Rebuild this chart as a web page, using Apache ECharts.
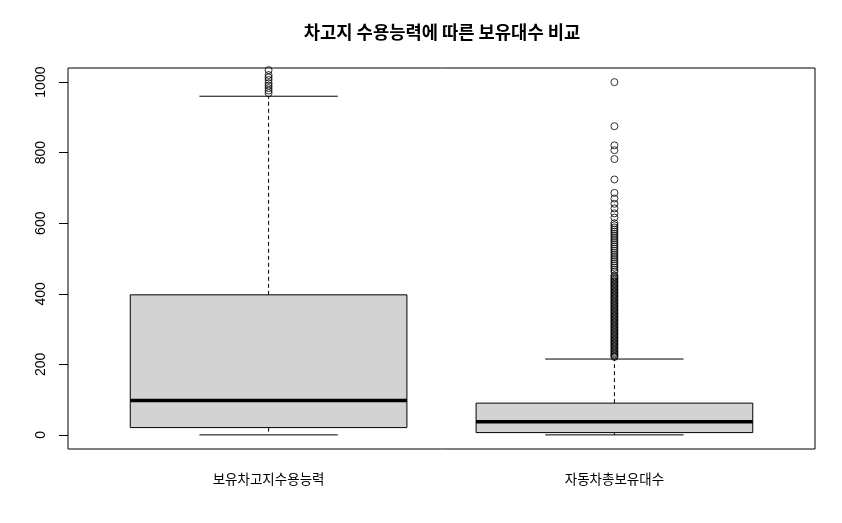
<!DOCTYPE html>
<html>
<head>
<meta charset="utf-8">
<script src="https://cdn.jsdelivr.net/npm/echarts@6/dist/echarts.min.js"></script>
<style>html,body{margin:0;padding:0;background:#fff}#c{width:842px;height:523px}</style>
</head>
<body>
<div id="c"></div>
<script>
const titleText = '차고지 수용능력에 따른 보유대수 비교';
const categories = ['보유차고지수용능력', '자동차총보유대수'];
const positions = [1, 2];
const whiskerLow = [0, 0];
const q1 = [20.7, 6.5];
const median = [97.4, 37];
const q3 = [397, 90];
const whiskerHigh = [960, 215];
const yTicks = [0, 200, 400, 600, 800, 1000];
const outliers1 = [969, 976, 983, 990, 997, 1006, 1013, 1020, 1034];
const outliers2 = [1000, 875, 821, 807, 782, 724, 686, 670, 655, 642, 628, 616,
  600, 594, 588, 582, 576, 570, 564, 558, 552, 546, 540, 534, 528, 522, 516, 510,
  504, 498, 492, 486, 480, 474, 468, 462,
  452, 448, 444, 440, 436, 432, 428, 424, 420, 416, 412, 408, 404, 400, 396, 392,
  388, 384, 380, 376, 372, 368, 364, 360, 356, 352, 348, 344, 340, 336, 332, 328,
  324, 320, 316, 312, 308, 304, 300, 296, 292, 288, 284, 280, 276, 272, 268, 264,
  260, 256, 252, 248, 244, 240, 236, 232, 228, 224, 221];

const boxData = positions.map((p, i) => [p, whiskerLow[i], q1[i], median[i], q3[i], whiskerHigh[i]]);
const outlierData = [];
outliers1.forEach(v => outlierData.push([positions[0], v]));
outliers2.forEach(v => outlierData.push([positions[1], v]));

const chart = echarts.init(document.getElementById('c'), null, {renderer: 'canvas'});
chart.setOption({
  animation: false,
  backgroundColor: '#fff',
  title: {
    text: titleText, left: 437, top: 18, textAlign: 'center',
    textStyle: {fontFamily: 'Noto Sans CJK KR', fontWeight: 'bold', fontSize: 17.7, color: '#000'}
  },
  grid: {left: 68, right: 27, top: 68, bottom: 74, show: true, borderColor: '#000', borderWidth: 1, backgroundColor: 'transparent'},
  xAxis: {
    type: 'value', min: 0.42, max: 2.58,
    splitLine: {show: false}, axisLine: {show: false}, axisTick: {show: false},
    axisLabel: {
      customValues: positions, margin: 23,
      formatter: v => categories[positions.indexOf(v)] || '',
      fontFamily: 'Noto Sans CJK KR', fontSize: 13.5, color: '#000'
    }
  },
  yAxis: {
    type: 'value', min: -40, max: 1040,
    splitLine: {show: false}, axisLine: {show: false},
    axisTick: {show: true, customValues: yTicks, length: 9, lineStyle: {color: '#000', width: 1}},
    axisLabel: {customValues: yTicks, rotate: 90, margin: 20, formatter: v => String(v), fontFamily: 'Liberation Sans', fontSize: 14, color: '#000'}
  },
  series: [
    {
      type: 'custom',
      data: boxData,
      encode: {x: 0, y: [1, 2, 3, 4, 5]},
      clip: true,
      renderItem: function (params, api) {
        const x = api.value(0);
        const lo = api.value(1), a = api.value(2), m = api.value(3), b = api.value(4), hi = api.value(5);
        const hw = 0.4, cw = 0.2;
        const tl = api.coord([x - hw, b]);
        const br = api.coord([x + hw, a]);
        const c = api.coord([x, 0])[0];
        const yHi = api.coord([x, hi])[1], yLo = api.coord([x, lo])[1];
        const yB = tl[1], yA = br[1];
        const yM = api.coord([x, m])[1];
        const capL = api.coord([x - cw, 0])[0], capR = api.coord([x + cw, 0])[0];
        const dash = {stroke: '#000', lineWidth: 1, lineDash: [4, 3]};
        const solid = {stroke: '#000', lineWidth: 1};
        return {
          type: 'group',
          children: [
            {type: 'line', shape: {x1: c, y1: yB, x2: c, y2: yHi}, style: dash},
            {type: 'line', shape: {x1: c, y1: yA, x2: c, y2: yLo}, style: dash},
            {type: 'line', shape: {x1: capL, y1: yHi, x2: capR, y2: yHi}, style: solid},
            {type: 'line', shape: {x1: capL, y1: yLo, x2: capR, y2: yLo}, style: solid},
            {type: 'rect', shape: {x: tl[0], y: yB, width: br[0] - tl[0], height: yA - yB}, style: {fill: '#D3D3D3', stroke: '#000', lineWidth: 1}},
            {type: 'line', shape: {x1: tl[0], y1: yM, x2: br[0], y2: yM}, style: {stroke: '#000', lineWidth: 3.5}}
          ]
        };
      }
    },
    {
      type: 'scatter',
      data: outlierData,
      symbol: 'circle',
      symbolSize: 7,
      clip: true,
      itemStyle: {color: 'rgba(0,0,0,0)', borderColor: '#000', borderWidth: 1}
    }
  ]
});
</script>
</body>
</html>
